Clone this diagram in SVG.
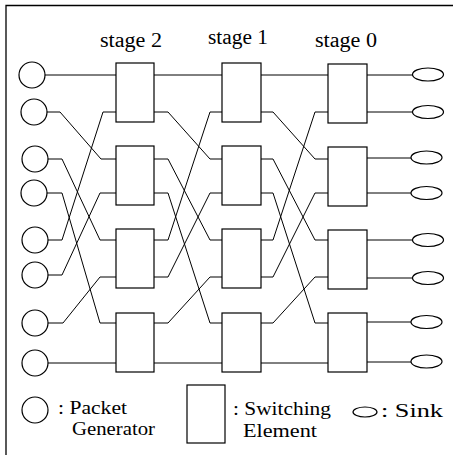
<svg xmlns="http://www.w3.org/2000/svg" width="453" height="455" viewBox="0 0 453 455">
<style>
.w{fill:none;stroke:#000;stroke-width:1}
.n{fill:#fff;stroke:#000;stroke-width:1.2}
.t{font-family:"Liberation Serif","Times New Roman",serif;font-size:20px;fill:#000}
.s{font-size:19px}
</style>
<rect width="453" height="455" fill="#fff"/>
<path d="M6,455 V5.5 H453" fill="none" stroke="#000" stroke-width="1.3"/>
<g id="labels">
<text class="t" x="100" y="47" textLength="62" lengthAdjust="spacingAndGlyphs">stage 2</text>
<text class="t" x="208" y="44" textLength="60" lengthAdjust="spacingAndGlyphs">stage 1</text>
<text class="t" x="315" y="47" textLength="62" lengthAdjust="spacingAndGlyphs">stage 0</text>
</g>
<g id="connectors" class="w">
<path d="M45,75 H116"/>
<path d="M47,112 H60 L101,159 H116"/>
<path d="M48,159 H62 L100,240 H116"/>
<path d="M47,193 H62 L100,323 H116"/>
<path d="M48,240 H62 L103,112 H116"/>
<path d="M48,275 H62 L100,193 H116"/>
<path d="M48,323 H63 L100,277 H116"/>
<path d="M48,363 H116"/>
<path d="M154,75 H222"/>
<path d="M154,112 H168 L210,159 H222"/>
<path d="M154,159 H168 L210,240 H222"/>
<path d="M154,193 H168 L210,323 H222"/>
<path d="M154,240 H168 L210,112 H222"/>
<path d="M154,277 H168 L210,193 H222"/>
<path d="M154,323 H168 L210,277 H222"/>
<path d="M154,363 H222"/>
<path d="M261,75 H328"/>
<path d="M261,112 H273 L315,159 H328"/>
<path d="M261,159 H273 L315,240 H328"/>
<path d="M261,193 H273 L315,323 H328"/>
<path d="M261,240 H273 L315,112 H328"/>
<path d="M261,277 H273 L315,193 H328"/>
<path d="M261,323 H273 L315,277 H328"/>
<path d="M261,363 H328"/>
<path d="M367,75 H413"/>
<path d="M367,112 H413"/>
<path d="M367,158 H411.5"/>
<path d="M367,193 H411.5"/>
<path d="M367,240 H413"/>
<path d="M367,278 H413"/>
<path d="M367,322 H411.5"/>
<path d="M367,362 H411.5"/>
</g>
<g id="generators" class="n">
<circle id="gen0" cx="32" cy="75" r="13"/>
<circle id="gen1" cx="34" cy="112" r="13"/>
<circle id="gen2" cx="35" cy="159" r="13"/>
<circle id="gen3" cx="34" cy="193" r="13"/>
<circle id="gen4" cx="35" cy="240" r="13"/>
<circle id="gen5" cx="35" cy="275" r="13"/>
<circle id="gen6" cx="35" cy="323" r="13"/>
<circle id="gen7" cx="35" cy="363" r="13"/>
</g>
<g id="stage2" class="n">
<rect id="s2e0" x="116" y="63" width="38" height="59"/>
<rect id="s2e1" x="116" y="146" width="38" height="59"/>
<rect id="s2e2" x="116" y="229" width="38" height="59"/>
<rect id="s2e3" x="116" y="313" width="38" height="59"/>
</g>
<g id="stage1" class="n">
<rect id="s1e0" x="222" y="63" width="39" height="59"/>
<rect id="s1e1" x="222" y="146" width="39" height="59"/>
<rect id="s1e2" x="222" y="229" width="39" height="59"/>
<rect id="s1e3" x="222" y="313" width="39" height="59"/>
</g>
<g id="stage0" class="n">
<rect id="s0e0" x="328" y="64" width="39" height="59"/>
<rect id="s0e1" x="328" y="147" width="39" height="59"/>
<rect id="s0e2" x="328" y="230" width="39" height="59"/>
<rect id="s0e3" x="328" y="313" width="39" height="59"/>
</g>
<g id="sinks" class="n">
<ellipse id="sink0" cx="428" cy="74.5" rx="15.5" ry="6.5"/>
<ellipse id="sink1" cx="428" cy="112" rx="15.5" ry="6.5"/>
<ellipse id="sink2" cx="426.5" cy="157.5" rx="15.5" ry="6.5"/>
<ellipse id="sink3" cx="426.5" cy="193" rx="15.5" ry="6.5"/>
<ellipse id="sink4" cx="428" cy="240" rx="15.5" ry="6.5"/>
<ellipse id="sink5" cx="428" cy="278" rx="15.5" ry="6.5"/>
<ellipse id="sink6" cx="426.5" cy="322" rx="15.5" ry="6.5"/>
<ellipse id="sink7" cx="426.5" cy="361.5" rx="15.5" ry="6.5"/>
</g>
<g id="legend">
<g id="legend-generator">
<circle class="n" cx="35" cy="410" r="13"/>
<text class="t s" x="58" y="414" textLength="69" lengthAdjust="spacingAndGlyphs">: Packet</text>
<text class="t s" x="72" y="435" textLength="83" lengthAdjust="spacingAndGlyphs">Generator</text>
</g>
<g id="legend-element">
<rect class="n" x="187" y="385" width="38" height="58"/>
<text class="t s" x="233" y="415" textLength="98" lengthAdjust="spacingAndGlyphs">: Switching</text>
<text class="t s" x="243" y="437" textLength="74" lengthAdjust="spacingAndGlyphs">Element</text>
</g>
<g id="legend-sink">
<ellipse class="n" cx="365" cy="412" rx="12" ry="5"/>
<text class="t s" x="381" y="417" textLength="62" lengthAdjust="spacingAndGlyphs">: Sink</text>
</g>
</g>
</svg>
